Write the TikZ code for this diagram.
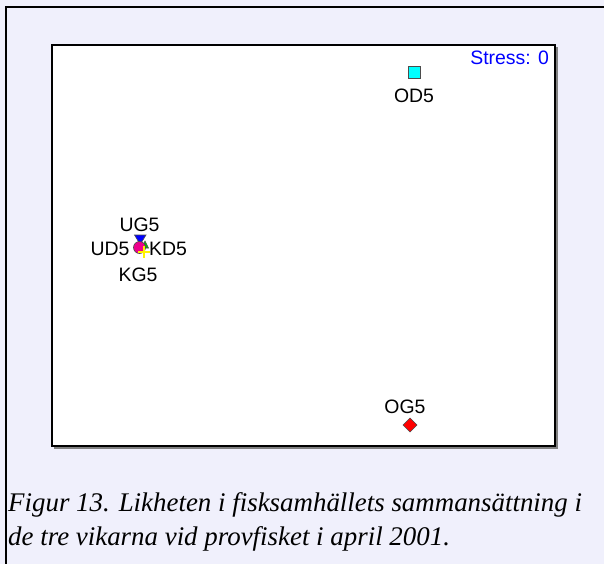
\documentclass[tikz,border=0pt]{standalone}
\usepackage{fontspec}
\setmainfont{Liberation Serif}
\newfontfamily\labelfont{Liberation Sans}
\usetikzlibrary{shapes.geometric}
\definecolor{pagebg}{RGB}{240,240,252}
\definecolor{mkcyan}{RGB}{0,255,255}
\definecolor{mkblue}{RGB}{0,0,255}
\begin{document}
\begin{tikzpicture}[x=1bp,y=-1bp,
  lbl/.style={font=\labelfont\fontsize{19.5}{22}\selectfont, inner sep=0pt},
  mk/.style={draw=black!70, line width=0.6bp},
  captext/.style={font=\fontsize{27}{35}\selectfont\itshape, inner sep=0pt, anchor=base west}]
\useasboundingbox (0,0) rectangle (604,564);
\fill[pagebg] (0,0) rectangle (604,564);
\draw[line width=2.5bp] (6,570) -- (6,7) -- (610,7);
% plot frame with slight shadow
\draw[gray, line width=2bp] (54,447.5) -- (556.5,447.5) -- (556.5,47);
\filldraw[fill=white, draw=black, line width=2.5bp] (52,45) rectangle (555,446);
% labels
\node[lbl, text=mkblue, anchor=east] (stress) at (549,58) {Stress: 0};
\node[lbl] (od5) at (414,96) {OD5};
\node[lbl] (og5) at (405,407) {OG5};
\node[lbl] (ug5) at (139.5,225) {UG5};
\node[lbl] (ud5) at (110,249) {UD5};
\node[lbl] (kd5) at (168,249) {KD5};
\node[lbl] (kg5) at (138,275) {KG5};
% markers
\filldraw[mk, fill=mkcyan] (408,66) rectangle (420,78);
\filldraw[mk, fill=red] (410,418) -- (417,425) -- (410,432) -- (403,425) -- cycle;
\filldraw[mk, fill=mkblue] (134.5,235) -- (146,235) -- (140.2,244.5) -- cycle;
\filldraw[mk, fill=green!75!black] (145,241) -- (148.5,248) -- (141.5,248) -- cycle;
\filldraw[mk, fill=magenta] (139.5,247.5) circle (6);
\draw[yellow, line width=1.3bp] (138,252) -- (150,252) (144,246) -- (144,258);
% caption
\node[captext] (cap1) at (8,511) {Figur 13. Likheten i fisksamhällets sammansättning i};
\node[captext] (cap2) at (8,545) {de tre vikarna vid provfisket i april 2001.};
\end{tikzpicture}
\end{document}
